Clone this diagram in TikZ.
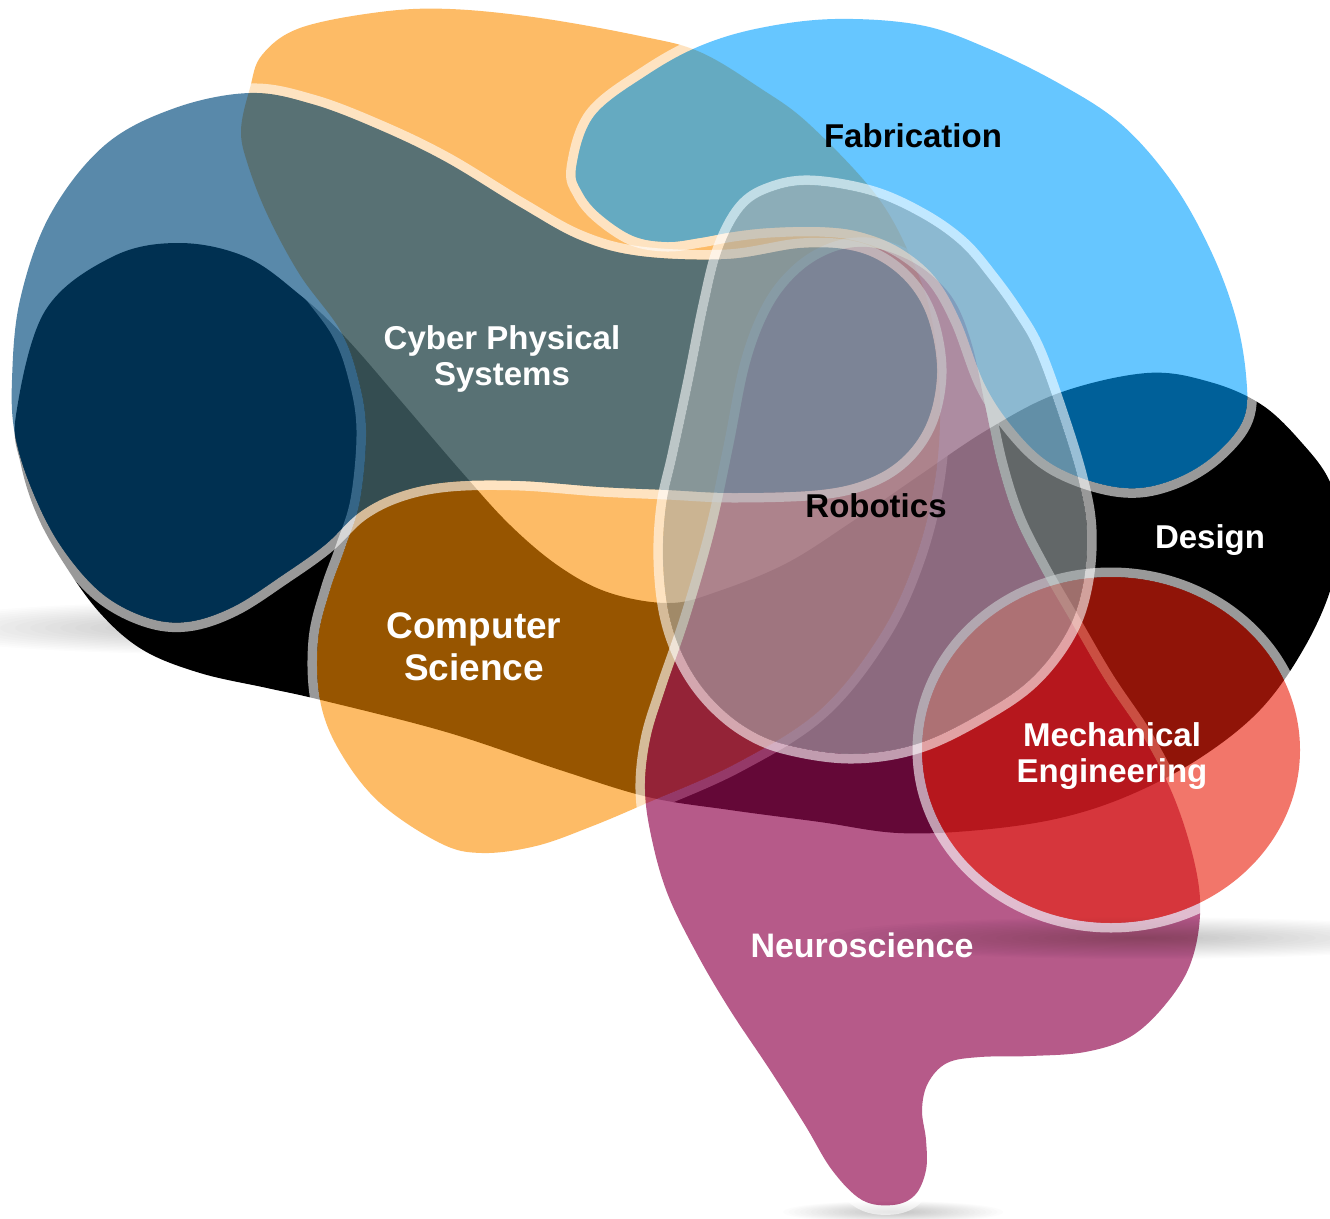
\documentclass[tikz,border=0pt]{standalone}
\usepackage{fontspec}
\setmainfont{Liberation Sans}

\definecolor{csorange}{RGB}{253,143,0}
\definecolor{neuro}{RGB}{148,12,82}
\definecolor{cps}{RGB}{0,74,125}
\definecolor{fab}{RGB}{0,160,255}
\definecolor{mecheng}{RGB}{234,33,13}
\definecolor{robot}{RGB}{168,176,178}

% outlines of the coloured regions (smooth closed curves)
\def\designshape{plot coordinates {
  (16,415) (45,311) (112,257) (179,243) (246,257) (300,295) (345,337)
  (400,400) (460,470) (510,525) (560,567) (610,593) (670,603) (719,591)
  (787,563) (853,521) (920,475) (987,430) (1059,393) (1147,373)
  (1210,382) (1262,405) (1302,443) (1330,482) (1340,530) (1331,588)
  (1303,650) (1260,710) (1200,758) (1130,795) (1060,818) (980,830)
  (898,833) (820,822) (730,810) (648,797) (560,770) (446,732) (321,700)
  (267,688) (200,673) (143,650) (100,613) (63,562) (37,515) (21,465)}}
\def\csshape{plot coordinates {
  (250,88) (262,55) (300,28) (380,12) (450,9) (540,18) (640,36) (700,52)
  (760,88) (809,124) (876,195) (912,260) (932,320) (940,400) (935,480)
  (915,560) (880,635) (820,710) (737,763) (647,803) (590,827) (536,846)
  (482,853) (440,843) (379,802) (339,750) (320,700) (318,640) (330,590)
  (345,548) (360,500) (366,430) (358,378) (340,330) (300,275) (268,216)
  (248,165) (241,130)}}
\def\neushape{plot coordinates {
  (833,252) (867,247) (900,256) (930,274) (955,302) (972,345) (985,405)
  (998,465) (1015,518) (1040,568) (1070,620) (1105,680) (1145,740)
  (1175,800) (1195,865) (1200,915) (1190,965) (1165,1005) (1130,1037)
  (1085,1052) (1030,1056) (980,1057) (947,1063) (928,1083) (922,1110)
  (926,1140) (926,1170) (915,1195) (893,1205) (862,1200) (832,1170)
  (805,1125) (770,1070) (730,1010) (697,954) (668,895) (652,840)
  (645,790) (650,740) (665,690) (690,617) (715,530) (733,447) (750,363)
  (772,307) (800,272)}}
\def\cpsshape{plot coordinates {
  (250,93) (312,104) (380,130) (446,162) (520,207) (580,240) (640,256)
  (727,259) (800,248) (850,250) (885,264) (913,290) (930,325) (937,373)
  (928,420) (905,455) (870,478) (820,490) (733,493) (667,490) (600,487)
  (520,481) (450,482) (400,492) (360,512) (325,545) (283,575) (233,607)
  (187,622) (145,617) (100,592) (60,545) (32,490) (15,435) (12,380)
  (20,300) (50,215) (105,145) (175,108)}}
\def\fabshape{plot coordinates {
  (576,168) (594,116) (647,75) (700,46) (760,28) (835,19) (920,25)
  (987,48) (1060,84) (1121,124) (1172,182) (1210,249) (1235,315)
  (1246,375) (1244,418) (1218,452) (1182,476) (1140,488) (1097,483)
  (1050,463) (1015,430) (985,385) (960,320) (935,277) (900,248)
  (860,232) (820,227) (770,228) (733,232) (700,238) (667,242) (633,236)
  (600,214) (582,192)}}
\def\meshape{(1111,750) ellipse [x radius=189, y radius=173]}
\def\robshape{plot coordinates {
  (810,185) (870,195) (920,217) (960,245) (990,280) (1015,315) (1035,350)
  (1057,410) (1078,478) (1087,530) (1083,585) (1067,632) (1033,677)
  (987,710) (920,743) (853,754) (787,745) (745,727) (710,697) (685,660)
  (669,615) (663,560) (666,505) (677,455) (693,380) (708,305) (722,250)
  (743,210) (770,192)}}

% a translucent region with a pale rim lying just outside its edge
\newcommand{\region}[3]{%
  \begin{scope}[even odd rule]
    \clip (-200,-200) rectangle (1530,1418) #1;
    \draw[rim] #1;
  \end{scope}
  \fill[#2, fill opacity=#3] #1;}

% soft contact shadow built from stacked faint ellipses
\newcommand{\floorshadow}[4]{%
  \foreach \s in {1,0.95,...,0.04}{%
    \fill[black, opacity=0.013] (#1,#2) ellipse [x radius=\s*#3, y radius=\s*#4];}}

\begin{document}
\begin{tikzpicture}[x=1pt, y=-1pt,
  smooth cycle, tension=0.6,
  rim/.style={draw=white, draw opacity=0.6, line width=19pt},
  lbl/.style={font=\bfseries\fontsize{33}{36}\selectfont, align=center, inner sep=0pt},
]
\useasboundingbox (0,0) rectangle (1330,1218);
\fill[white] (0,0) rectangle (1330,1218);

% shadows on the floor
\floorshadow{210}{628}{300}{26}
\floorshadow{893}{1212}{110}{11}

% Design: the dark body of the brain
\fill[black] \designshape;

\region{\csshape}{csorange}{0.6}
\region{\neushape}{neuro}{0.68}
\region{\cpsshape}{cps}{0.65}
\region{\fabshape}{fab}{0.6}

% shadow cast below Mechanical Engineering
\floorshadow{1140}{938}{320}{21}

\region{\meshape}{mecheng}{0.615}
\region{\robshape}{robot}{0.59}

% labels
\node[lbl, text=black] (fabl) at (913,136) {Fabrication};
\node[lbl, text=white] (cpsl) at (502,359) {Cyber Physical\\Systems};
\node[lbl, text=black] (robl) at (876,506) {Robotics};
\node[lbl, text=white] (desl) at (1210,540) {Design};
\node[lbl, text=white, font=\bfseries\fontsize{37}{42}\selectfont] (csl) at (474,647) {Computer\\Science};
\node[lbl, text=white] (mel) at (1112,756) {Mechanical\\Engineering};
\node[lbl, text=white, font=\bfseries\fontsize{34}{38}\selectfont] (neul) at (862,945) {Neuroscience};
\end{tikzpicture}
\end{document}
